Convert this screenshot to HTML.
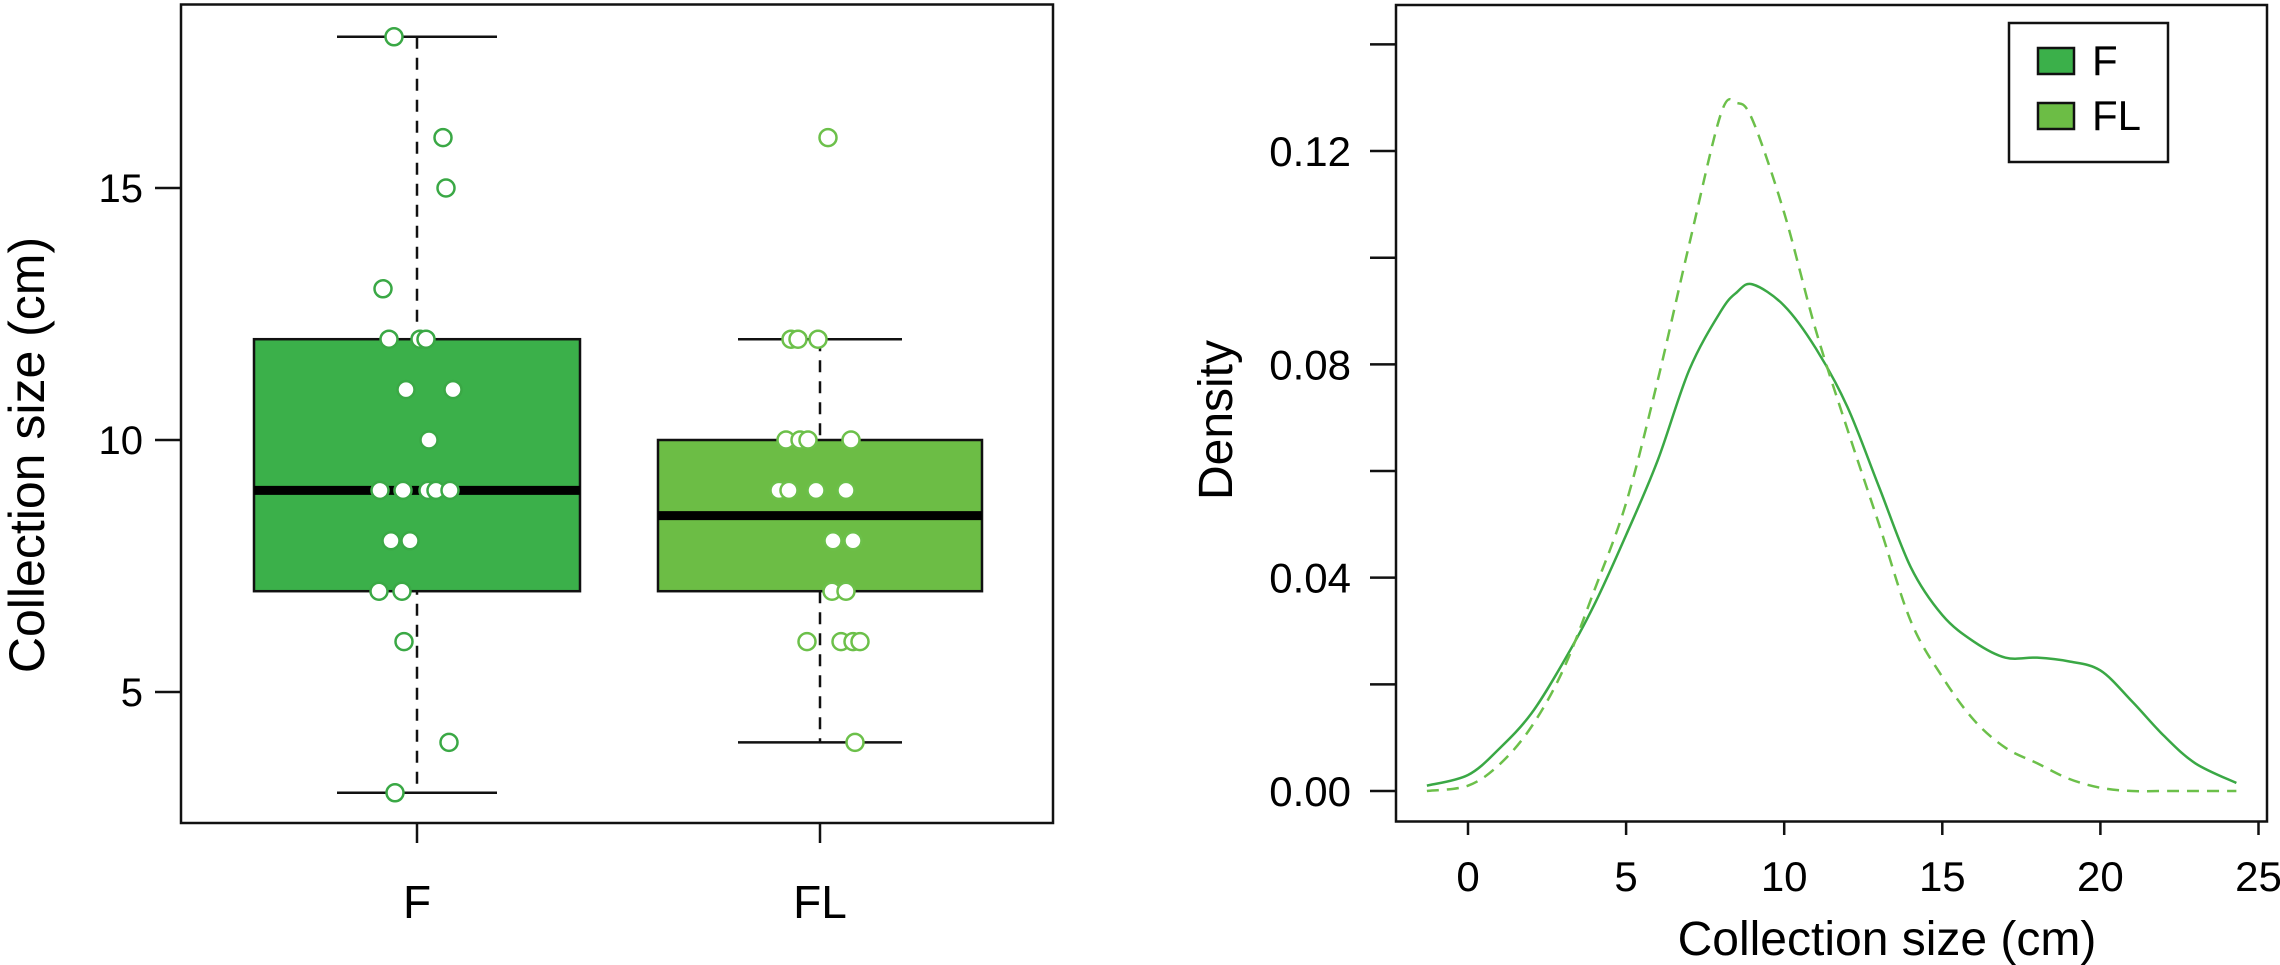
<!DOCTYPE html>
<html><head><meta charset="utf-8"><style>
html,body{margin:0;padding:0;background:#fff;}
svg{display:block;font-family:"Liberation Sans",Arial,sans-serif;}
</style></head><body>
<svg id="chart" width="2280" height="965" viewBox="0 0 2280 965" xmlns="http://www.w3.org/2000/svg">
<g id="left"></g>
<g id="right"></g>
</svg>
<script>
// ---- Boxplot data ----
const groups = ["F", "FL"];
const boxQ1 = [7, 7];
const boxMedian = [9, 8.5];
const boxQ3 = [12, 10];
const whiskerLow = [3, 4];
const whiskerHigh = [18, 12];
const leftTicks = [5, 10, 15];
const ptsFvals = [18,16,15,13,12,12,12,11,11,10,9,9,9,9,9,8,8,7,7,6,4,3];
const ptsFjit  = [-23,26,29,-34,-28,3,9,-11,36,12,-37,-14,11,19,33,-26,-7,-38,-15,-13,32,-22];
const ptsFLvals = [16,12,12,12,10,10,10,10,9,9,9,9,8,8,7,7,6,6,6,6,4];
const ptsFLjit  = [8,-29,-22,-2,-34,-20,-12,31,-41,-31,-4,26,13,33,12,26,-13,21,33,40,35];
// ---- Density data ----
const densX = [-1.3,0,1,2,3,4,5,6,7,8,8.5,9,10,11,12,13,14,15,16,17,18,19,20,21,22,23,24.3];
const densF = [0.001,0.003,0.008,0.0145,0.024,0.035,0.048,0.062,0.079,0.090,0.0935,0.095,0.091,0.083,0.072,0.057,0.042,0.033,0.028,0.025,0.025,0.0243,0.0226,0.0168,0.0104,0.0052,0.0015];
const densFL = [0.0,0.001,0.005,0.012,0.0226,0.0377,0.054,0.077,0.1026,0.127,0.129,0.1258,0.1084,0.0864,0.0678,0.050,0.0319,0.0214,0.0133,0.0081,0.0052,0.0023,0.0006,0.0,0.0,0.0,0.0];
const xTicks = [0,5,10,15,20,25];
const yTicks = [0.00,0.04,0.08,0.12];
const yMinorTicks = [0.02,0.06,0.10,0.14];
const legendLabels = ["F","FL"];

const NS="http://www.w3.org/2000/svg";
function mk(parent,tag,attrs,text){const e=document.createElementNS(NS,tag);for(const k in attrs)e.setAttribute(k,attrs[k]);if(text!==undefined)e.textContent=text;parent.appendChild(e);return e;}

const fills=["#3bb04a","#6cbd45"];
const strokes=["#3aa845","#6cc04a"];

// Left axes
const L=document.getElementById('left');
const yL=v=>440-(v-10)*50.4;
const xL=i=>[417,820][i];
const halfW=[163,162];
const capHalf=[80,82];
let fr=mk(L,'rect',{x:181,y:4.5,width:872,height:818.5,fill:'none',stroke:'#111','stroke-width':2.5});

leftTicks.forEach(t=>{
  let l=mk(L,'line',{x1:155,x2:181,y1:yL(t),y2:yL(t),stroke:'#111','stroke-width':2.5});
  
  let tx=mk(L,'text',{x:143,y:yL(t)+14,'text-anchor':'end','font-size':40},String(t));
  
});
let yt=mk(L,'text',{x:0,y:0,'text-anchor':'middle','font-size':50,transform:'translate(44,455) rotate(-90)'},'Collection size (cm)');


groups.forEach((g,i)=>{
  const cx=xL(i);
  let w=mk(L,'line',{x1:cx,x2:cx,y1:yL(whiskerHigh[i]),y2:yL(whiskerLow[i]),stroke:'#111','stroke-width':2.5,'stroke-dasharray':'12,9'});
  
  [whiskerHigh[i],whiskerLow[i]].forEach(v=>{
    let c=mk(L,'line',{x1:cx-capHalf[i],x2:cx+capHalf[i],y1:yL(v),y2:yL(v),stroke:'#111','stroke-width':2.5});
    
  });
  let b=mk(L,'rect',{x:cx-halfW[i],y:yL(boxQ3[i]),width:halfW[i]*2,height:yL(boxQ1[i])-yL(boxQ3[i]),fill:fills[i],stroke:'#111','stroke-width':2.5});
  
  let m=mk(L,'line',{x1:cx-halfW[i],x2:cx+halfW[i],y1:yL(boxMedian[i]),y2:yL(boxMedian[i]),stroke:'#000','stroke-width':9});
  
  let tk=mk(L,'line',{x1:cx,x2:cx,y1:823,y2:843,stroke:'#111','stroke-width':2.5});
  
  let lb=mk(L,'text',{x:cx,y:918,'text-anchor':'middle','font-size':46},g);
  
});
function drawPts(vals,jit,i){
  vals.forEach((v,k)=>{
    let c=mk(L,'circle',{cx:xL(i)+jit[k],cy:yL(v),r:8.5,fill:'#fff',stroke:strokes[i],'stroke-width':2.5});
    
  });
}
drawPts(ptsFvals,ptsFjit,0);
drawPts(ptsFLvals,ptsFLjit,1);

// Right axes
const R=document.getElementById('right');
const xR=v=>1468+v*31.62;
const yR=v=>791-v*5333;
let fr2=mk(R,'rect',{x:1396,y:5,width:871,height:816.5,fill:'none',stroke:'#111','stroke-width':2.5});

yTicks.forEach(t=>{
  let l=mk(R,'line',{x1:1370,x2:1396,y1:yR(t),y2:yR(t),stroke:'#111','stroke-width':2.5});
  
  let tx=mk(R,'text',{x:1351,y:yR(t)+15,'text-anchor':'end','font-size':42},t.toFixed(2));
  
});
yMinorTicks.forEach(t=>{
  let l=mk(R,'line',{x1:1370,x2:1396,y1:yR(t),y2:yR(t),stroke:'#111','stroke-width':2.5});
  
});
xTicks.forEach(t=>{
  let l=mk(R,'line',{x1:xR(t),x2:xR(t),y1:821,y2:835,stroke:'#111','stroke-width':2.5});
  
  let tx=mk(R,'text',{x:xR(t),y:891,'text-anchor':'middle','font-size':42},String(t));
  
});
let xt=mk(R,'text',{x:1887,y:955,'text-anchor':'middle','font-size':48},'Collection size (cm)');

let dt=mk(R,'text',{x:0,y:0,'text-anchor':'middle','font-size':48,transform:'translate(1232,420) rotate(-90)'},'Density');


function smoothPath(xs,ys){
  const P=xs.map((x,i)=>[xR(x),yR(ys[i])]);
  let d='M'+P[0][0]+','+P[0][1];
  for(let i=0;i<P.length-1;i++){
    const p0=P[Math.max(0,i-1)],p1=P[i],p2=P[i+1],p3=P[Math.min(P.length-1,i+2)];
    const c1=[p1[0]+(p2[0]-p0[0])/6,p1[1]+(p2[1]-p0[1])/6];
    const c2=[p2[0]-(p3[0]-p1[0])/6,p2[1]-(p3[1]-p1[1])/6];
    d+=` C${c1[0]},${c1[1]} ${c2[0]},${c2[1]} ${p2[0]},${p2[1]}`;
  }
  return d;
}
let lf=mk(R,'path',{d:smoothPath(densX,densF),fill:'none',stroke:'#3aa845','stroke-width':2.5});

let lfl=mk(R,'path',{d:smoothPath(densX,densFL),fill:'none',stroke:'#6cc04a','stroke-width':2.5,'stroke-dasharray':'12,8'});


// Legend
let lg=mk(R,'rect',{x:2009,y:23,width:159,height:139,fill:'#fff',stroke:'#111','stroke-width':2.5});

legendLabels.forEach((t,i)=>{
  const y=48+i*55;
  let s=mk(R,'rect',{x:2038,y:y,width:36,height:26,fill:fills[i],stroke:'#111','stroke-width':2.5});
  
  let tx=mk(R,'text',{x:2092,y:y+27,'font-size':42},t);
  
});
</script>
</body></html>
